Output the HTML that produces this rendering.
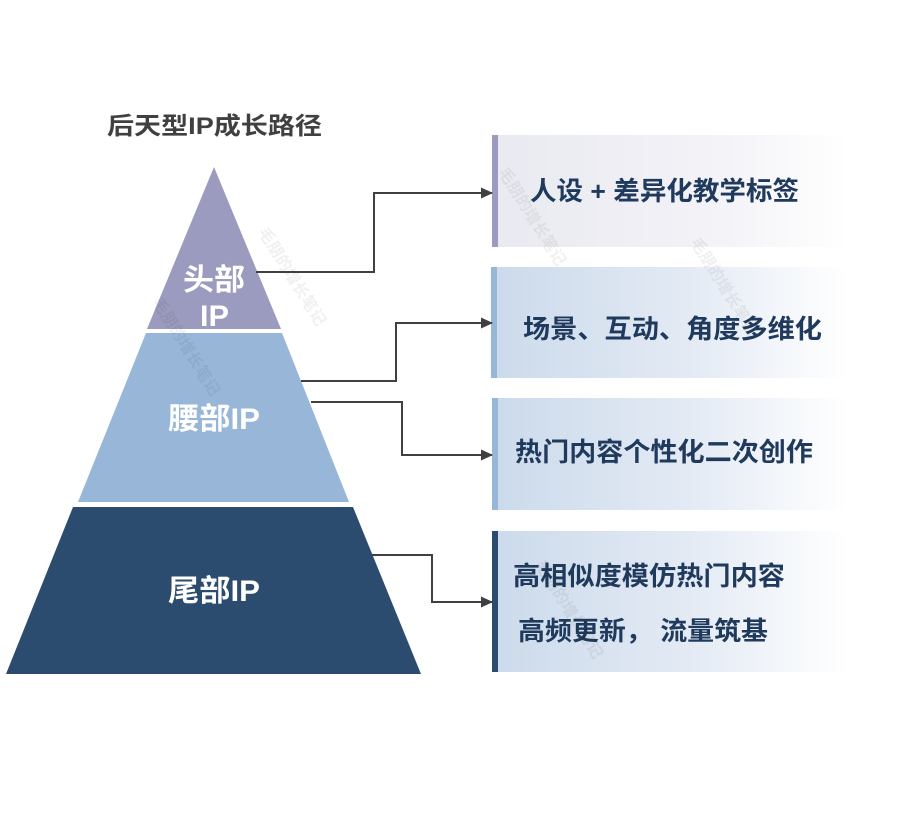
<!DOCTYPE html>
<html>
<head>
<meta charset="utf-8">
<style>
  html,body{margin:0;padding:0;background:#fff;}
  svg{display:block;}
  text{font-family:"Liberation Sans","Noto Sans CJK SC","WenQuanYi Zen Hei",sans-serif;font-weight:bold;}
</style>
</head>
<body>
<svg width="899" height="815" viewBox="0 0 899 815" xmlns="http://www.w3.org/2000/svg">
  <defs>
    <linearGradient id="g1" x1="0" y1="0" x2="1" y2="0">
      <stop offset="0" stop-color="#e9e9f1"/>
      <stop offset="0.6" stop-color="#f2f2f7"/>
      <stop offset="1" stop-color="#ffffff"/>
    </linearGradient>
    <linearGradient id="g2" x1="0" y1="0" x2="1" y2="0">
      <stop offset="0" stop-color="#cbdaeb"/>
      <stop offset="0.55" stop-color="#e3eaf4"/>
      <stop offset="1" stop-color="#ffffff"/>
    </linearGradient>
    <marker id="ar" markerWidth="12" markerHeight="12" refX="11" refY="6" orient="auto" markerUnits="userSpaceOnUse">
      <path d="M0,0.5 L12,6 L0,11.5 Z" fill="#404040"/>
    </marker>
  </defs>

  <!-- title -->
  <text x="107" y="134" font-size="24" fill="#404040" textLength="215" lengthAdjust="spacingAndGlyphs">后天型IP成长路径</text>

  <!-- pyramid -->
  <polygon points="214,167 281,329 147,329" fill="#9b9bbf"/>
  <polygon points="146,333 282,333 349,502 78,502" fill="#97b6d8"/>
  <polygon points="73,507 353,507 421,674 6,674" fill="#2b4c6f"/>

  <text x="183" y="290" font-size="30" fill="#ffffff" textLength="62" lengthAdjust="spacingAndGlyphs">头部</text>
  <text x="200" y="326" font-size="30" fill="#ffffff" textLength="29" lengthAdjust="spacingAndGlyphs">IP</text>
  <text x="168" y="429" font-size="30" fill="#ffffff" textLength="92" lengthAdjust="spacingAndGlyphs">腰部IP</text>
  <text x="168" y="601" font-size="30" fill="#ffffff" textLength="92" lengthAdjust="spacingAndGlyphs">尾部IP</text>

  <!-- boxes -->
  <rect x="492" y="135" width="356" height="112" fill="url(#g1)"/>
  <rect x="492" y="135" width="6" height="112" fill="#9b9bbf"/>

  <rect x="491" y="267" width="357" height="111" fill="url(#g2)"/>
  <rect x="491" y="267" width="6" height="111" fill="#97b6d8"/>

  <rect x="492" y="398" width="356" height="112" fill="url(#g2)"/>
  <rect x="492" y="398" width="6" height="112" fill="#97b6d8"/>

  <rect x="492" y="531" width="356" height="141" fill="url(#g2)"/>
  <rect x="492" y="531" width="6" height="141" fill="#2b4c6f"/>

  <!-- box text -->
  <text x="530" y="200" font-size="26" fill="#1f3a5c" textLength="269" lengthAdjust="spacingAndGlyphs">人设 + 差异化教学标签</text>
  <text x="523" y="338" font-size="26" fill="#1f3a5c" textLength="299" lengthAdjust="spacingAndGlyphs">场景、互动、角度多维化</text>
  <text x="515" y="461" font-size="26" fill="#1f3a5c" textLength="298" lengthAdjust="spacingAndGlyphs">热门内容个性化二次创作</text>
  <text x="513" y="585" font-size="26" fill="#1f3a5c" textLength="272" lengthAdjust="spacingAndGlyphs">高相似度模仿热门内容</text>
  <text x="518" y="640" font-size="26" fill="#1f3a5c" textLength="250" lengthAdjust="spacingAndGlyphs">高频更新， 流量筑基</text>

  <!-- connectors -->
  <g fill="none" stroke="#404040" stroke-width="2">
    <polyline points="256,272 374,272 374,193 492,193" marker-end="url(#ar)"/>
    <polyline points="301,381 396,381 396,323 492,323" marker-end="url(#ar)"/>
    <polyline points="311,402 402,402 402,455 492,455" marker-end="url(#ar)"/>
    <polyline points="372,555 432,555 432,602 492,602" marker-end="url(#ar)"/>
  </g>

  <!-- watermarks -->
  <g font-size="16" fill="#000" fill-opacity="0.06" font-weight="normal">
    <text transform="translate(258,232) rotate(58)">毛朋的增长笔记</text>
    <text transform="translate(152,302) rotate(58)">毛朋的增长笔记</text>
    <text transform="translate(498,172) rotate(58)">毛朋的增长笔记</text>
    <text transform="translate(690,242) rotate(58)">毛朋的增长笔记</text>
    <text transform="translate(535,565) rotate(58)">毛朋的增长笔记</text>
  </g>
</svg>
</body>
</html>
